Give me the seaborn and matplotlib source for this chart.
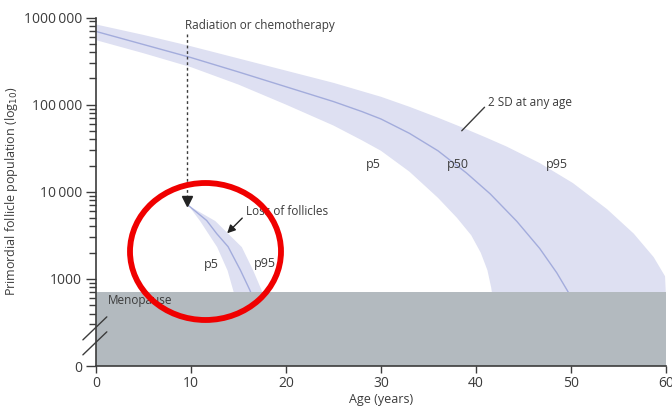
import numpy as np
import matplotlib
matplotlib.use("Agg")
import matplotlib.pyplot as plt
import seaborn as sns
from matplotlib.patches import Ellipse, Rectangle
from matplotlib.ticker import FixedLocator, FixedFormatter

# follicle counts are read off a log10 axis, so they are kept as log10 values
# normal ovarian reserve
age_mid = [0, 5, 10, 15, 20, 25, 28, 30, 33, 36, 39, 41.5, 44.3, 46.7, 48.5, 49.7, 50.3]
log_p50 = [5.84, 5.69, 5.54, 5.375, 5.205, 5.035, 4.92, 4.835, 4.67, 4.47, 4.215,
           3.975, 3.66, 3.35, 3.07, 2.85, 2.72]

age_hi = [0, 5, 10, 15, 20, 25, 30, 33, 36, 38.5, 41, 43.2, 46.7, 50.2, 53.8,
          56.6, 58.7, 59.9, 60]
log_p95 = [5.92, 5.80, 5.67, 5.53, 5.39, 5.25, 5.09, 4.975, 4.85, 4.74, 4.625,
           4.52, 4.33, 4.10, 3.80, 3.52, 3.25, 3.03, 2.80]

age_lo = [0, 5, 10, 15, 20, 25, 28, 30, 33, 36, 38, 39.5, 40.5, 41.2, 41.6, 41.8]
log_p5 = [5.74, 5.59, 5.43, 5.23, 5.00, 4.76, 4.59, 4.47, 4.23, 3.93, 3.70,
          3.50, 3.30, 3.10, 2.90, 2.75]

# after radiation / chemotherapy at ~10 years
loss_log = [3.845, 3.67, 3.52, 3.37, 3.10, 2.87, 2.70]
loss_p5 = [9.7, 10.9, 11.8, 12.7, 13.8, 14.4, 14.8]
loss_p50 = [9.7, 11.65, 12.7, 13.9, 15.2, 16.2, 16.8]
loss_p95 = [9.7, 12.5, 13.9, 15.3, 16.5, 17.4, 18.0]

menopause_level = 700
x_ticks = [0, 10, 20, 30, 40, 50, 60]
y_ticks = [100, 1000, 10000, 100000, 1000000]
y_labels = ["0", "1000", "10\u2009000", "100\u2009000", "1000\u2009000"]

sns.set_theme(style="ticks")
plt.rcParams["font.family"] = ["Open Sans", "DejaVu Sans"]

band = "#dee0f2"
line = "#a3acdc"
grey = "#b3babf"
ink = "#3c3c3c"

p50 = np.power(10.0, log_p50)
p95 = np.power(10.0, log_p95)
p5 = np.power(10.0, log_p5)
loss_lvl = np.power(10.0, loss_log)

fig = plt.figure(figsize=(6.72, 4.16), dpi=100)
ax = fig.add_axes([96 / 672, 1 - 366 / 416, 570 / 672, 348.5 / 416])
ax.set_yscale("log")

# main 2 SD band: upper edge forward, lower edge back
ax.fill(np.concatenate([age_hi, age_lo[::-1]]), np.concatenate([p95, p5[::-1]]),
        color=band, lw=0, zorder=1)
sns.lineplot(x=age_mid, y=p50, color=line, lw=1, ax=ax, zorder=2)

# reduced reserve band
ax.fill_betweenx(loss_lvl, loss_p5, loss_p95, color=band, lw=0, zorder=1.3)
sns.lineplot(x=loss_p50, y=loss_lvl, sort=False, color=line, lw=1, ax=ax, zorder=2)

# menopause zone
ax.add_patch(Rectangle((0, 100), 60, menopause_level - 100, facecolor=grey,
                       edgecolor="none", zorder=3))

ax.set_xlim(0, 60)
ax.set_ylim(100, 1000000)
ax.set_xticks(x_ticks)
ax.yaxis.set_major_locator(FixedLocator(y_ticks))
ax.yaxis.set_major_formatter(FixedFormatter(y_labels))
minors = [m * 10 ** e for e in range(2, 6) for m in range(2, 10)]
minors = [v for v in minors if v >= 300]
ax.yaxis.set_minor_locator(FixedLocator(minors))
ax.yaxis.set_minor_formatter(FixedFormatter([""] * len(minors)))
ax.tick_params(axis="y", which="major", length=7, width=1, color=ink,
               labelsize=10, labelcolor=ink, pad=3)
ax.tick_params(axis="y", which="minor", length=5, width=1, color=ink)
ax.tick_params(axis="x", length=5, width=1, color=ink, labelsize=10,
               labelcolor=ink, pad=2)
sns.despine(ax=ax)
for s in ["left", "bottom"]:
    ax.spines[s].set_color(ink)
    ax.spines[s].set_linewidth(1.2)
    ax.spines[s].set_zorder(4)

ax.set_xlabel("Age (years)", fontsize=9, color=ink, labelpad=2)
ax.set_ylabel("Primordial follicle population (log$_{10}$)", fontsize=9,
              color=ink, labelpad=3)

# axis break marks
for y0 in [0.032, 0.075]:
    ax.plot([-0.023, 0.019], [y0, y0 + 0.066], transform=ax.transAxes,
            color=ink, lw=1, clip_on=False, zorder=5)

# radiation marker
ax.plot([9.6, 9.6], [646000, 8200], color=ink, lw=1, ls=(0, (2, 2)), zorder=4)
ax.plot([9.6], [7900], marker="v", ms=7, color="#222222", zorder=4)
ax.text(9.4, 800000, "Radiation or chemotherapy", fontsize=8.5, color=ink,
        va="center", ha="left")

ax.annotate("", xy=(13.6, 3170), xytext=(15.6, 5250),
            arrowprops=dict(arrowstyle="-|>", color="#222222", lw=1,
                            mutation_scale=12), zorder=4)
ax.text(15.8, 5900, "Loss of follicles", fontsize=8.5, color=ink, va="center")

ax.plot([40.9, 38.5], [93300, 50100], color=ink, lw=1, zorder=4)
ax.text(41.3, 105000, "2 SD at any age", fontsize=8.5, color=ink, va="center")

for x, y, s in [(29.2, 20300, "p5"), (38.1, 20300, "p50"), (48.5, 20300, "p95"),
                (12.1, 1450, "p5"), (17.8, 1510, "p95")]:
    ax.text(x, y, s, fontsize=9, color=ink, ha="center", va="center", zorder=4)
ax.text(1.26, 571, "Menopause", fontsize=8.5, color=ink, va="center", zorder=4)

# red highlight ring
fig.patches.append(Ellipse((205.5 / 672, 1 - 251.5 / 416), 151 / 672, 137 / 416,
                           transform=fig.transFigure, fill=False,
                           edgecolor="#f00000", lw=4.2, zorder=10))

fig.savefig("out.png", dpi=100)
